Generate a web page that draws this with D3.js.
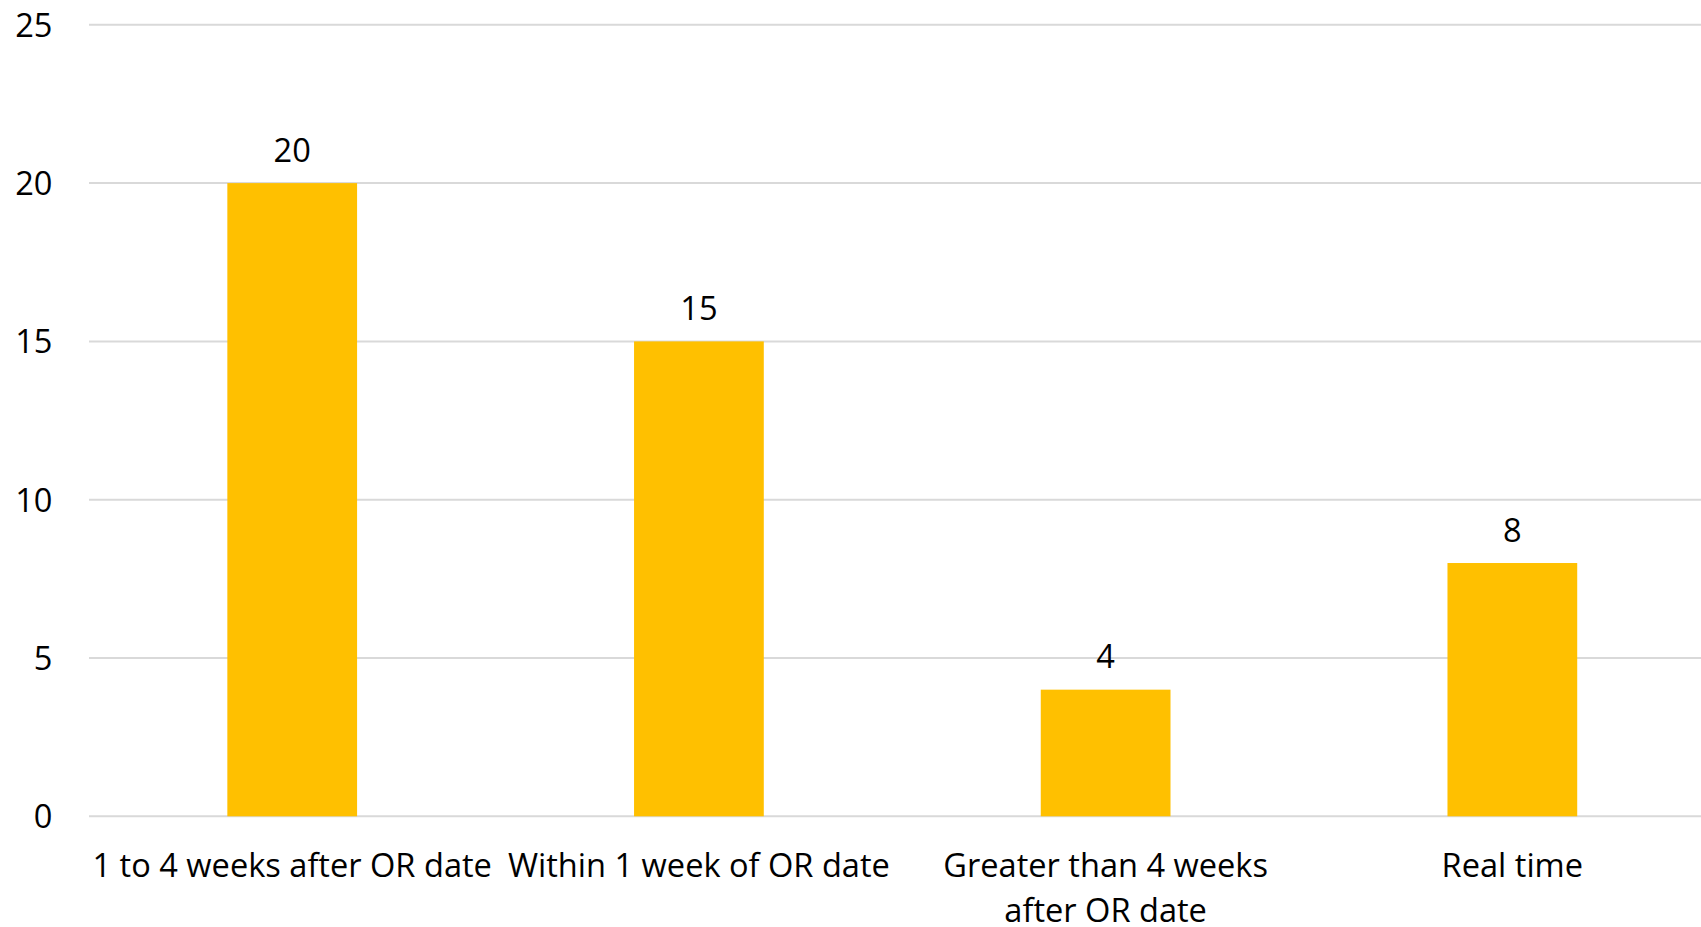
<!DOCTYPE html>
<html><head><meta charset="utf-8"><script src="https://cdn.jsdelivr.net/npm/d3@7"></script>
<style>body{margin:0;background:#fff}text{font-family:"Open Sans",sans-serif;fill:#000}</style></head>
<body>
<svg id="chart" width="1701" height="927"></svg>
<script>
const categories = ["1 to 4 weeks after OR date", "Within 1 week of OR date", "Greater than 4 weeks\nafter OR date", "Real time"];
const values = [20, 15, 4, 8];
const yTicks = [0, 5, 10, 15, 20, 25];

const W = 1701, H = 927;
const fontSize = 32.6;
const svg = d3.select("#chart");

const y = d3.scaleLinear().domain([0, 25]).range([816.3, 24.8]);
const x = d3.scaleBand().domain(categories).range([88.85, 1715.7]).paddingInner(0.681).paddingOuter(0.3405);

// gridlines
svg.append("g").selectAll("line").data(yTicks).join("line")
  .attr("x1", 89).attr("x2", W)
  .attr("y1", d => y(d)).attr("y2", d => y(d))
  .attr("stroke", "#d9d9d9").attr("stroke-width", 2);

// y tick labels
svg.append("g").selectAll("text").data(yTicks).join("text")
  .attr("x", 52.5).attr("y", d => y(d)).attr("dy", 12)
  .attr("text-anchor", "end").style("font-size", fontSize + "px")
  .text(d => d);

// bars
svg.append("g").selectAll("rect").data(values).join("rect")
  .attr("x", (d, i) => x(categories[i]))
  .attr("width", x.bandwidth())
  .attr("y", d => y(d))
  .attr("height", d => y(0) - y(d))
  .attr("fill", "#ffc000");

// value labels
svg.append("g").selectAll("text").data(values).join("text")
  .attr("x", (d, i) => x(categories[i]) + x.bandwidth() / 2)
  .attr("y", d => y(d) - 21.5)
  .attr("text-anchor", "middle").style("font-size", fontSize + "px")
  .text(d => d);

// category labels
svg.append("g").selectAll("text").data(categories).join("text")
  .attr("text-anchor", "middle").style("font-size", fontSize + "px")
  .each(function (c) {
    const cx = x(c) + x.bandwidth() / 2;
    d3.select(this).selectAll("tspan").data(c.split("\n")).join("tspan")
      .attr("x", cx).attr("y", (l, i) => 876.7 + i * 45).text(l => l);
  });
</script></body></html>
